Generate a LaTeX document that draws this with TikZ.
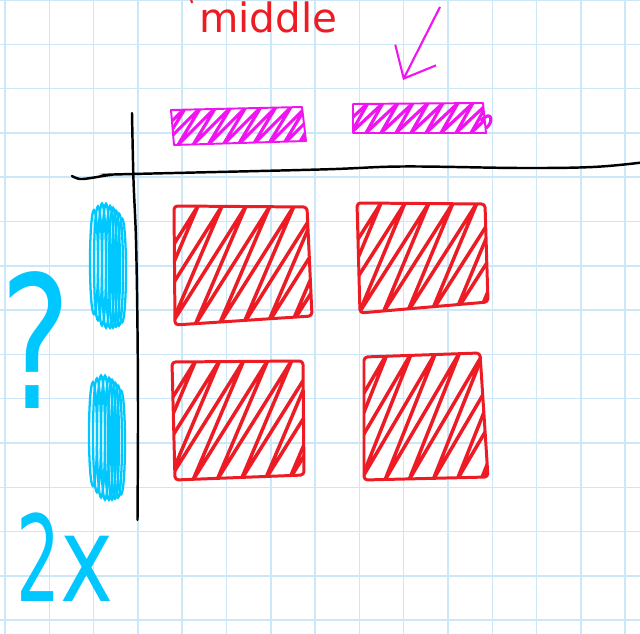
\documentclass[tikz,border=0pt]{standalone}
\usepackage{fontspec}
\usepackage{xcolor}
\usetikzlibrary{arrows.meta}
\newfontfamily\handfont{DejaVu Sans}
\definecolor{gridblue}{RGB}{204,232,248}
\definecolor{inkred}{RGB}{237,28,36}
\definecolor{inkpink}{RGB}{240,20,240}
\definecolor{inkcyan}{RGB}{0,200,255}

% zigzag scribble: style, x0, top, bottom, rise, step, count
\newcommand{\hatch}[7]{%
  \draw[#1] ({#2-#5},#4) \foreach \k in {1,...,#7} { -- ++(#5,{#3-#4}) -- ++({#6-#5},{#4-#3}) };}
% cyan scribble blob: centre x, centre y
\newcommand{\blob}[2]{%
  \foreach \dx/\ry in {-13/52,-9/57,-5/61,-1/62,3/61,6/60,9/58,12/56,15/52}
    \draw[blobline] ({#1+\dx},{#2+0.3*\dx}) ellipse (4 and \ry);}

\begin{document}
\begin{tikzpicture}[x=0.02cm, y=-0.02cm,
    gridline/.style={gridblue, line width=0.85pt},
    axisline/.style={black, line width=1.4pt, line cap=round},
    redbox/.style={inkred, line width=1.7pt, line join=round, rounded corners=2pt},
    redhatch/.style={inkred, line width=2pt, line join=round},
    pinkbox/.style={inkpink, line width=1.1pt, line join=round},
    pinkhatch/.style={inkpink, line width=1.8pt, line join=round},
    blobline/.style={inkcyan, line width=1.3pt}]
    \useasboundingbox (0,0) rectangle (640,634);
    \clip (0,0) rectangle (640,634);
    \fill[white] (0,0) rectangle (640,634);

    % Draw Grid
    \foreach \i in {0,...,14} \draw[gridline] ({5+44.3*\i},0) -- ({5+44.3*\i},634);
    \foreach \j in {0,...,14} \draw[gridline] (0,{44.3*\j}) -- (640,{44.3*\j});

    % Draw Axes
    \draw[axisline] plot[smooth, tension=0.6] coordinates {(72,176) (80,179) (93,177.7) (110,175) (133,174) (320,169.5) (403,166.5) (520,168) (593,167) (642,162.5)};
    \draw[axisline] plot[smooth, tension=0.6] coordinates {(132,113) (133.5,180) (136,240) (137.5,330) (138,420) (137.5,520)};

    % Magenta bars
    \begin{scope}
      \clip (171,110) -- (302,107) -- (306,141) -- (174,145) -- cycle;
      \hatch{pinkhatch}{171}{107}{145}{38}{15}{13}
    \end{scope}
    \draw[pinkbox] (171,110) -- (302,107) -- (306,141) -- (174,145) -- cycle;
    \begin{scope}
      \clip (353,104) -- (483,103) -- (486,133) -- (353,133) -- cycle;
      \hatch{pinkhatch}{353}{103}{133}{32}{15}{12}
    \end{scope}
    \draw[pinkbox] (353,104) -- (483,103) -- (486,133) -- (353,133) -- cycle;
    \draw[pinkhatch] (481,121) .. controls (492,108) and (494,123) .. (486,128);

    % Arrow and label
    \coordinate (arrowtail) at (440,7);
    \coordinate (arrowtip) at (403,80);
    \draw[inkpink, line width=1.2pt, -{Straight Barb[length=15pt,width=26pt]}] (arrowtail) -- (arrowtip);
    \node[inkred, anchor=base west, inner sep=0pt, font=\handfont\fontsize{23}{23}\selectfont] (midlabel) at (199,33) {middle};
    \draw[inkred, line width=1.2pt] (191,-1) -- (192,3);

    % Red squares
    \begin{scope}
      \clip (174,206) -- (307,207) -- (312,316) -- (175,325) -- cycle;
      \hatch{redhatch}{174}{206}{325}{75}{24}{10}
    \end{scope}
    \draw[redbox] (174,206) -- (307,207) -- (312,316) -- (175,325) -- cycle;
    \begin{scope}
      \clip (357,203) -- (485,204) -- (488,302) -- (360,313) -- cycle;
      \hatch{redhatch}{357}{203}{313}{70}{24}{9}
    \end{scope}
    \draw[redbox] (357,203) -- (485,204) -- (488,302) -- (360,313) -- cycle;
    \begin{scope}
      \clip (172,362) -- (303,361) -- (304,475) -- (175,480) -- cycle;
      \hatch{redhatch}{172}{360}{480}{75}{24}{10}
    \end{scope}
    \draw[redbox] (172,362) -- (303,361) -- (304,475) -- (175,480) -- cycle;
    \begin{scope}
      \clip (364,357) -- (480,353) -- (488,477) -- (364,480) -- cycle;
      \hatch{redhatch}{364}{352}{480}{75}{24}{9}
    \end{scope}
    \draw[redbox] (364,357) -- (480,353) -- (488,477) -- (364,480) -- cycle;

    % Cyan marks
    \blob{107}{266}
    \blob{106}{438}
    \node[inkcyan, anchor=base west, inner sep=0pt, font=\handfont\fontsize{105}{105}\selectfont] (qmark) at (0,409) {\scalebox{0.72}[1]{?}};
    \node[inkcyan, anchor=base west, inner sep=0pt, font=\handfont\fontsize{68}{68}\selectfont] (twox) at (16,602) {\scalebox{0.58}[1]{2}\scalebox{0.75}[1]{x}};
\end{tikzpicture}
\end{document}
